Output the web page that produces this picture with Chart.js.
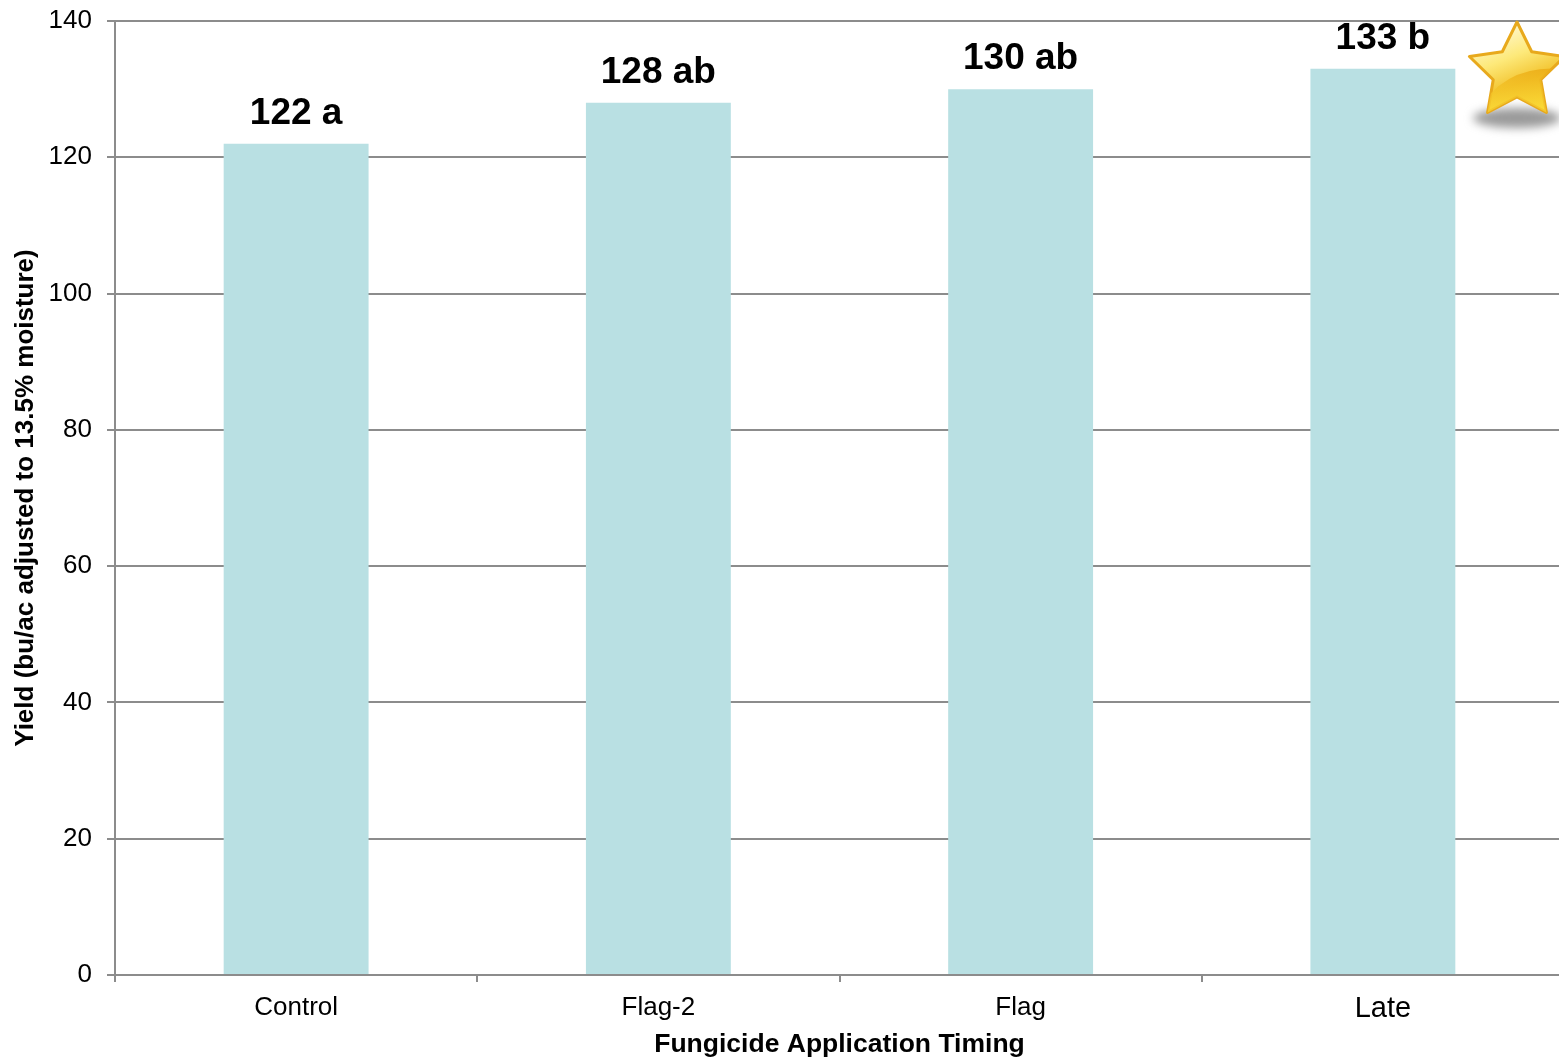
<!DOCTYPE html>
<html>
<head>
<meta charset="utf-8">
<script src="https://cdn.jsdelivr.net/npm/chart.js@4.4.1/dist/chart.umd.min.js"></script>
<style>
  html, body { margin: 0; padding: 0; background: #ffffff; overflow: hidden; }
  #wrap { width: 1564px; height: 1061px; position: relative; }
</style>
</head>
<body>
<div id="wrap"><canvas id="chart"></canvas></div>
<script>
// Fungicide timing trial: mean yield per treatment with mean-separation letters
const timings = ["Control", "Flag-2", "Flag", "Late"];
const yieldBuAc = [122, 128, 130, 133];
const sigLetters = ["a", "ab", "ab", "b"];
const yTicks = [0, 20, 40, 60, 80, 100, 120, 140];

const FONT = "'Liberation Sans', Arial, Helvetica, sans-serif";
const GRID = "#8c8c8c";
const BAR = "#b9e0e3";

// Bold value + letter labels above each bar
const valueLabels = {
  id: "valueLabels",
  afterDatasetsDraw(chart) {
    const ctx = chart.ctx;
    const meta = chart.getDatasetMeta(0);
    ctx.save();
    ctx.fillStyle = "#000000";
    ctx.font = "bold 37px " + FONT;
    ctx.textAlign = "center";
    ctx.textBaseline = "alphabetic";
    meta.data.forEach((bar, i) => {
      ctx.fillText(yieldBuAc[i] + " " + sigLetters[i], bar.x, bar.y - 20);
    });
    ctx.restore();
  }
};

// Gold star with a soft shadow next to the best treatment
const starBadge = {
  id: "starBadge",
  afterDraw(chart) {
    const ctx = chart.ctx;
    const area = chart.chartArea;
    const cx = area.right - 47;
    const cy = area.top + 51;
    const R = 50, r = 25;

    ctx.save();
    // shadow
    ctx.filter = "blur(5px)";
    ctx.fillStyle = "rgba(120,120,120,0.75)";
    ctx.beginPath();
    ctx.ellipse(cx, cy + 46, 44, 10, 0, 0, Math.PI * 2);
    ctx.fill();
    ctx.filter = "none";

    // star outline
    const pts = [];
    for (let k = 0; k < 10; k++) {
      const ang = -Math.PI / 2 + k * Math.PI / 5;
      const rad = k % 2 === 0 ? R : r;
      pts.push([cx + rad * Math.cos(ang), cy + rad * Math.sin(ang)]);
    }
    ctx.beginPath();
    pts.forEach((p, k) => k === 0 ? ctx.moveTo(p[0], p[1]) : ctx.lineTo(p[0], p[1]));
    ctx.closePath();
    const g = ctx.createLinearGradient(cx - 20, cy - R, cx + 20, cy + R);
    g.addColorStop(0, "#fffbe0");
    g.addColorStop(0.35, "#fde97a");
    g.addColorStop(0.6, "#f3c531");
    g.addColorStop(1, "#fde23a");
    ctx.fillStyle = g;
    ctx.lineJoin = "round";
    ctx.fill();
    ctx.lineWidth = 3;
    ctx.strokeStyle = "#e8a91c";
    ctx.stroke();

    // glossy sweep on the lower half
    ctx.save();
    ctx.clip();
    ctx.beginPath();
    ctx.moveTo(cx - 40, cy + 40);
    ctx.quadraticCurveTo(cx - 10, cy - 12, cx + 55, cy - 2);
    ctx.lineTo(cx + 55, cy + 60);
    ctx.lineTo(cx - 40, cy + 60);
    ctx.closePath();
    const g2 = ctx.createLinearGradient(cx, cy - 5, cx, cy + 45);
    g2.addColorStop(0, "rgba(235,170,20,0.85)");
    g2.addColorStop(1, "rgba(253,226,60,0.6)");
    ctx.fillStyle = g2;
    ctx.fill();
    ctx.restore();

    ctx.restore();
  }
};

new Chart(document.getElementById("chart"), {
  type: "bar",
  data: {
    labels: timings,
    datasets: [{
      data: yieldBuAc,
      backgroundColor: BAR,
      borderWidth: 0,
      categoryPercentage: 1.0,
      barPercentage: 0.4
    }]
  },
  options: {
    responsive: true,
    maintainAspectRatio: false,
    animation: false,
    events: [],
    layout: { padding: { top: 21, left: 0, right: 0, bottom: 0 } },
    plugins: {
      legend: { display: false },
      tooltip: { enabled: false },
      title: { display: false }
    },
    scales: {
      x: {
        afterFit(scale) {
          scale.height = 86;
          scale.paddingLeft = 0;
          scale.paddingRight = 0;
        },
        grid: {
          offset: true,
          drawOnChartArea: false,
          drawTicks: true,
          tickLength: 7,
          color: GRID,
          lineWidth: 2
        },
        border: { display: true, color: GRID, width: 2 },
        ticks: {
          color: "#000000",
          padding: 10,
          maxRotation: 0,
          font: (c) => ({ family: FONT, size: c.index === 3 ? 29 : 26 })
        },
        title: {
          display: true,
          text: "Fungicide Application Timing",
          color: "#000000",
          font: { family: FONT, size: 26.5, weight: "bold" },
          padding: { top: 0, bottom: 0 }
        }
      },
      y: {
        min: 0,
        max: 140,
        afterFit(scale) {
          scale.width = 115;
          scale.paddingTop = 0;
          scale.paddingBottom = 0;
        },
        afterBuildTicks(scale) { scale.ticks = yTicks.map(v => ({ value: v })); },
        grid: {
          color: GRID,
          lineWidth: 2,
          tickLength: 8,
          drawTicks: true
        },
        border: { display: true, color: GRID, width: 2 },
        ticks: {
          color: "#000000",
          padding: 15,
          font: { family: FONT, size: 26 }
        },
        title: {
          display: true,
          text: "Yield (bu/ac adjusted to 13.5% moisture)",
          color: "#000000",
          font: { family: FONT, size: 26, weight: "bold" },
          padding: { top: 10, bottom: 0 }
        }
      }
    }
  },
  plugins: [valueLabels, starBadge]
});
</script>
</body>
</html>
